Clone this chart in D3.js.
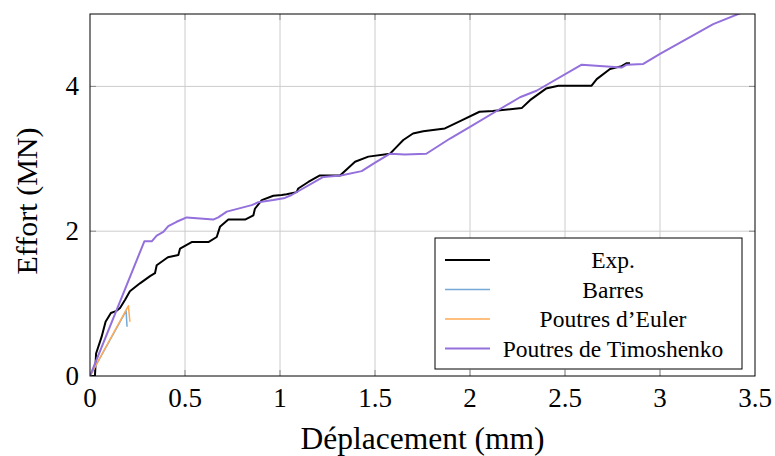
<!DOCTYPE html>
<html>
<head>
<meta charset="utf-8">
<script src="https://cdn.jsdelivr.net/npm/d3@7"></script>
<style>
  body { margin: 0; background: #fff; }
  text { font-family: "Liberation Serif", "DejaVu Serif", serif; fill: #000; }
</style>
</head>
<body>
<div id="chart"></div>
<script>
// dimensions of the graph
var margin = {top: 14, right: 20, bottom: 80, left: 90},
    width = 775 - margin.left - margin.right,
    height = 456 - margin.top - margin.bottom;

// data (deplacement mm, effort MN)
var expX = [0, 0.026, 0.032, 0.061, 0.082, 0.11, 0.14, 0.158, 0.184, 0.21, 0.263, 0.316, 0.342, 0.351, 0.41, 0.465, 0.474, 0.535, 0.623, 0.667, 0.684, 0.728, 0.816, 0.86, 0.868, 0.904, 0.965, 1.009, 1.035, 1.088, 1.096, 1.149, 1.21, 1.316, 1.395, 1.465, 1.579, 1.605, 1.649, 1.70, 1.754, 1.868, 1.956, 2.05, 2.12, 2.158, 2.272, 2.316, 2.40, 2.465, 2.64, 2.667, 2.737, 2.798, 2.825, 2.842];
var expY = [0, 0, 0.31, 0.54, 0.75, 0.87, 0.90, 0.94, 1.05, 1.17, 1.28, 1.38, 1.42, 1.53, 1.64, 1.67, 1.76, 1.85, 1.85, 1.92, 2.06, 2.16, 2.16, 2.22, 2.31, 2.43, 2.49, 2.50, 2.51, 2.54, 2.59, 2.68, 2.77, 2.77, 2.96, 3.03, 3.07, 3.14, 3.26, 3.35, 3.38, 3.42, 3.53, 3.65, 3.66, 3.67, 3.70, 3.81, 3.97, 4.01, 4.01, 4.10, 4.24, 4.28, 4.32, 4.32];

var barresX = [0, 0.19, 0.195];
var barresY = [0, 0.90, 0.68];

var eulerX = [0, 0.202, 0.21];
var eulerY = [0, 0.97, 0.75];

var timoX = [0, 0.286, 0.325, 0.351, 0.386, 0.412, 0.456, 0.509, 0.649, 0.675, 0.72, 0.851, 0.886, 0.965, 1.026, 1.061, 1.228, 1.32, 1.43, 1.49, 1.579, 1.658, 1.77, 1.895, 2.0, 2.14, 2.263, 2.35, 2.588, 2.798, 2.825, 2.912, 3.0, 3.28, 3.45];
var timoY = [0, 1.86, 1.86, 1.94, 1.99, 2.07, 2.13, 2.19, 2.16, 2.19, 2.27, 2.36, 2.40, 2.43, 2.46, 2.50, 2.75, 2.77, 2.83, 2.93, 3.07, 3.06, 3.07, 3.28, 3.44, 3.66, 3.85, 3.94, 4.30, 4.26, 4.30, 4.31, 4.45, 4.86, 5.04];

var xTicks = [0, 0.5, 1, 1.5, 2, 2.5, 3, 3.5];
var yTicks = [0, 2, 4];

var seriesNames = ["Exp.", "Barres", "Poutres d\u2019Euler", "Poutres de Timoshenko"];
var seriesColors = ["#000000", "#74a9d8", "#ffaa55", "#9370db"];
var seriesWidths = [2, 1.5, 1.5, 2];

function zip(xs, ys) { return xs.map(function(v, i) { return [v, ys[i]]; }); }
var series = [zip(expX, expY), zip(barresX, barresY), zip(eulerX, eulerY), zip(timoX, timoY)];

var svg = d3.select("#chart")
  .append("svg")
    .attr("width", width + margin.left + margin.right)
    .attr("height", height + margin.top + margin.bottom)
  .append("g")
    .attr("transform", "translate(" + margin.left + "," + margin.top + ")");

var x = d3.scaleLinear().domain([0, 3.5]).range([0, width]);
var y = d3.scaleLinear().domain([0, 5]).range([height, 0]);

// grid
svg.append("g").selectAll("line").data(xTicks.slice(1, -1)).enter().append("line")
  .attr("x1", x).attr("x2", x).attr("y1", 0).attr("y2", height)
  .attr("stroke", "#cccccc").attr("stroke-width", 1);
svg.append("g").selectAll("line").data(yTicks.slice(1)).enter().append("line")
  .attr("y1", y).attr("y2", y).attr("x1", 0).attr("x2", width)
  .attr("stroke", "#cccccc").attr("stroke-width", 1);

// inner tick marks on all sides
var tl = 6;
var ticks = svg.append("g").attr("stroke", "#888888").attr("stroke-width", 1);
xTicks.slice(1, -1).forEach(function(t) {
  ticks.append("line").attr("x1", x(t)).attr("x2", x(t)).attr("y1", height).attr("y2", height - tl);
  ticks.append("line").attr("x1", x(t)).attr("x2", x(t)).attr("y1", 0).attr("y2", tl);
});
yTicks.slice(1).forEach(function(t) {
  ticks.append("line").attr("y1", y(t)).attr("y2", y(t)).attr("x1", 0).attr("x2", tl);
  ticks.append("line").attr("y1", y(t)).attr("y2", y(t)).attr("x1", width).attr("x2", width - tl);
});

// curves
svg.append("clipPath").attr("id", "clip")
  .append("rect").attr("width", width).attr("height", height);

var line = d3.line().x(function(d) { return x(d[0]); }).y(function(d) { return y(d[1]); });

svg.append("g").attr("clip-path", "url(#clip)")
  .selectAll("path").data(series).enter().append("path")
    .attr("d", line)
    .attr("fill", "none")
    .attr("stroke", function(d, i) { return seriesColors[i]; })
    .attr("stroke-width", function(d, i) { return seriesWidths[i]; })
    .attr("stroke-linejoin", "round");

// frame
svg.append("rect").attr("width", width).attr("height", height)
  .attr("fill", "none").attr("stroke", "#000").attr("stroke-width", 1);

// tick labels
var fsTick = 27, fsLabel = 30, fsLegend = 23.5;
svg.append("g").selectAll("text").data(xTicks).enter().append("text")
  .attr("x", x).attr("y", height + 31)
  .attr("text-anchor", "middle").style("font-size", fsTick + "px")
  .text(function(d) { return String(d); });
svg.append("g").selectAll("text").data(yTicks).enter().append("text")
  .attr("x", -11).attr("y", function(d) { return y(d) + 9; })
  .attr("text-anchor", "end").style("font-size", fsTick + "px")
  .text(function(d) { return String(d); });

// axis labels
svg.append("text")
  .attr("x", width / 2).attr("y", height + 73)
  .attr("text-anchor", "middle").style("font-size", "31.5px")
  .text("D\u00e9placement (mm)");
svg.append("text")
  .attr("transform", "translate(-53," + (height / 2 + 6) + ")rotate(-90)")
  .attr("text-anchor", "middle").style("font-size", fsLabel + "px")
  .text("Effort (MN)");

// legend
var lg = svg.append("g").attr("transform", "translate(" + (435 - margin.left) + "," + (238 - margin.top) + ")");
lg.append("rect").attr("width", 307).attr("height", 131)
  .attr("fill", "#fff").attr("stroke", "#000").attr("stroke-width", 1);
seriesNames.forEach(function(name, i) {
  var yy = 22 + i * 29.5;
  lg.append("line").attr("x1", 10).attr("x2", 55).attr("y1", yy).attr("y2", yy)
    .attr("stroke", seriesColors[i]).attr("stroke-width", seriesWidths[i]);
  lg.append("text").attr("x", 178).attr("y", yy + 8)
    .attr("text-anchor", "middle").style("font-size", fsLegend + "px")
    .text(name);
});
</script>
</body>
</html>
